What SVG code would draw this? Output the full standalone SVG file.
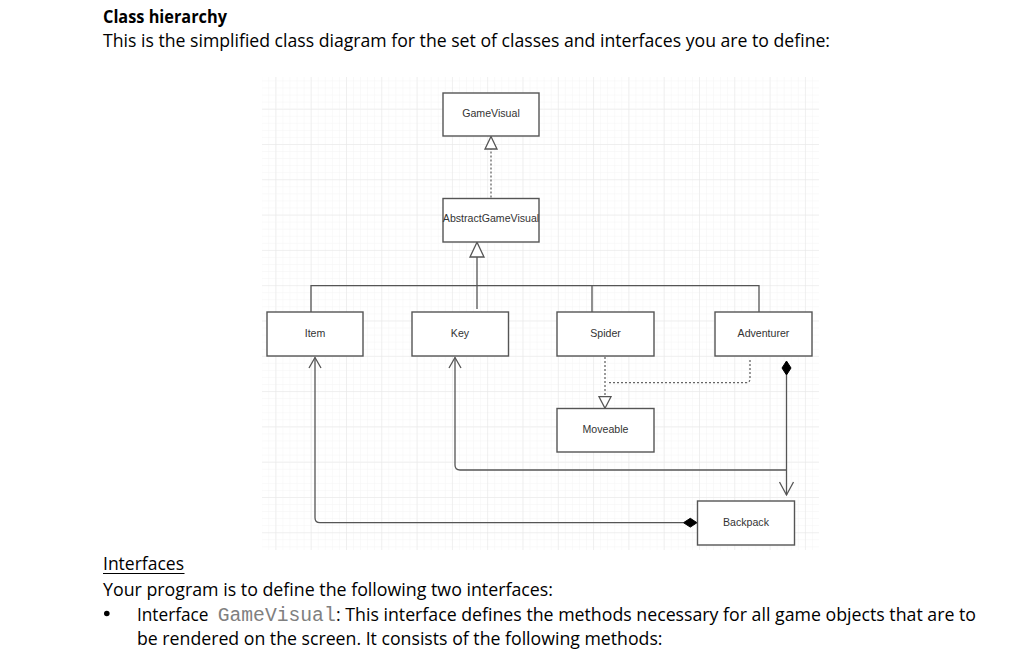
<svg xmlns="http://www.w3.org/2000/svg" width="1024" height="661" viewBox="0 0 1024 661">
  <style>
    .doc { font-family: "Open Sans", "Liberation Sans", sans-serif; font-size: 18.5px; fill: #000; }
    .mono { font-family: "Liberation Mono", monospace; font-size: 19.6px; fill: #808080; }
    .box { fill: #fff; stroke: #555; stroke-width: 1.4; }
    .lbl { font-family: "Liberation Sans", Arial, sans-serif; font-size: 10.6px; fill: #333; text-anchor: middle; }
    .ln { fill: none; stroke: #555; stroke-width: 1.3; }
    .dash { fill: none; stroke: #666; stroke-width: 1.3; stroke-dasharray: 2 2; }
    .tri { fill: #fff; stroke: #555; stroke-width: 1.3; }
    .dia { fill: #000; stroke: #000; stroke-width: 1; }
  </style>
  <defs>
    <pattern id="minor" patternUnits="userSpaceOnUse" x="275.4" y="73.4" width="7.06" height="7.06">
      <path d="M0 0 H7.06 M0 0 V7.06" stroke="#f4f4f4" stroke-width="1" fill="none"/>
    </pattern>
    <pattern id="major" patternUnits="userSpaceOnUse" x="275.4" y="73.4" width="35.3" height="35.3">
      <path d="M0 0 H35.3 M0 0 V35.3" stroke="#e6e6e6" stroke-width="1" fill="none"/>
    </pattern>
  </defs>
  <rect width="1024" height="661" fill="#fff"/>

  <!-- document text -->
  <text class="doc" x="103" y="22.5" font-weight="bold" textLength="124" lengthAdjust="spacingAndGlyphs">Class hierarchy</text>
  <text class="doc" x="103" y="46.5" textLength="727" lengthAdjust="spacingAndGlyphs">This is the simplified class diagram for the set of classes and interfaces you are to define:</text>

  <!-- grid background -->
  <rect x="262" y="77" width="557" height="473" fill="url(#minor)"/>
  <rect x="262" y="77" width="557" height="473" fill="url(#major)"/>

  <!-- connectors -->
  <g id="connectors">
    <!-- AbstractGameVisual realizes GameVisual -->
    <line class="dash" x1="491" y1="197.5" x2="491" y2="149"/>
    <path class="tri" d="M491 136.5 L497 149 L485 149 Z"/>
    <!-- generalization tree to AbstractGameVisual -->
    <path class="ln" d="M311 312 V285.7 H759 V312 M592 285.7 V312 M477 257 V309"/>
    <path class="tri" d="M477 242.3 L484 257 L470 257 Z"/>
    <!-- Spider / Adventurer realize Moveable -->
    <path class="dash" d="M605 357 V396.7"/>
    <path class="dash" d="M750 360 V378.7 Q750 382.7 746 382.7 H607"/>
    <path class="tri" d="M605 408.3 L611 396.7 L599 396.7 Z"/>
    <!-- Adventurer composition to Backpack -->
    <path class="dia" d="M786.5 361 L791 368 L786.5 375 L782 368 Z"/>
    <path class="ln" d="M786.5 375 V495"/>
    <path class="ln" d="M779.5 482 L786.5 495 L793.5 482"/>
    <!-- Backpack to Key -->
    <path class="ln" d="M455 357.5 V465 Q455 470 460 470 H786.5"/>
    <path class="ln" d="M449 368 L455 357.5 L461 368"/>
    <!-- Backpack to Item (composition at Backpack) -->
    <path class="ln" d="M315 357.5 V517.7 Q315 522.7 320 522.7 H683.5"/>
    <path class="ln" d="M309 368 L315 357.5 L321 368"/>
    <path class="dia" d="M683.5 522.7 L690.3 518.3 L697 522.7 L690.3 527.1 Z"/>
  </g>

  <!-- nodes -->
  <g id="GameVisual">
    <rect class="box" x="443" y="93" width="96" height="43"/>
    <text class="lbl" x="491" y="117">GameVisual</text>
  </g>
  <g id="AbstractGameVisual">
    <rect class="box" x="443" y="198.5" width="96" height="43.5"/>
    <text class="lbl" x="491" y="221.5">AbstractGameVisual</text>
  </g>
  <g id="Item">
    <rect class="box" x="267" y="312" width="96" height="44"/>
    <text class="lbl" x="315" y="336.5">Item</text>
  </g>
  <g id="Key">
    <rect class="box" x="412" y="312" width="96.5" height="44"/>
    <text class="lbl" x="460" y="336.5">Key</text>
  </g>
  <g id="Spider">
    <rect class="box" x="557" y="312" width="97" height="44"/>
    <text class="lbl" x="605.5" y="336.5">Spider</text>
  </g>
  <g id="Adventurer">
    <rect class="box" x="715" y="312" width="97" height="44"/>
    <text class="lbl" x="763.5" y="336.5">Adventurer</text>
  </g>
  <g id="Moveable">
    <rect class="box" x="557" y="408.5" width="97" height="43.5"/>
    <text class="lbl" x="605.5" y="433">Moveable</text>
  </g>
  <g id="Backpack">
    <rect class="box" x="697.5" y="501" width="97" height="44"/>
    <text class="lbl" x="746" y="525.5">Backpack</text>
  </g>

  <!-- lower document text -->
  <text class="doc" x="103" y="570" textLength="81" lengthAdjust="spacingAndGlyphs">Interfaces</text>
  <line x1="103" y1="573.5" x2="184.5" y2="573.5" stroke="#000" stroke-width="1"/>
  <text class="doc" x="103" y="595.5" textLength="450" lengthAdjust="spacingAndGlyphs">Your program is to define the following two interfaces:</text>
  <circle cx="106.8" cy="613.5" r="2.8" fill="#000"/>
  <text class="doc" x="137" y="620.7" textLength="71.5" lengthAdjust="spacingAndGlyphs">Interface</text>
  <text class="mono" x="217.7" y="620.7" textLength="118" lengthAdjust="spacingAndGlyphs">GameVisual</text>
  <text class="doc" x="336" y="620.7" textLength="640" lengthAdjust="spacingAndGlyphs">: This interface defines the methods necessary for all game objects that are to</text>
  <text class="doc" x="137" y="645" textLength="525.5" lengthAdjust="spacingAndGlyphs">be rendered on the screen. It consists of the following methods:</text>
</svg>
